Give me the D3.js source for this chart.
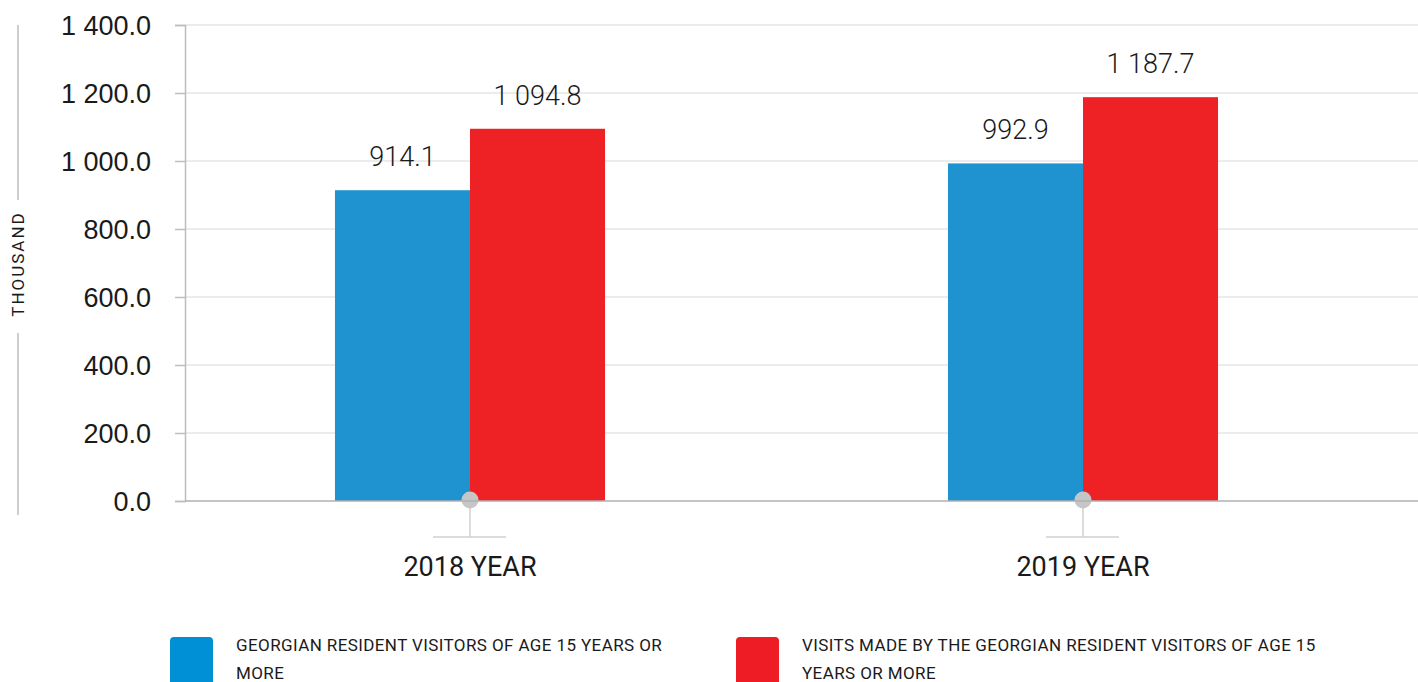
<!DOCTYPE html>
<html>
<head>
<meta charset="utf-8">
<script src="https://cdn.jsdelivr.net/npm/d3@7"></script>
<style>
  html, body { margin: 0; padding: 0; background: #fff; }
  svg { display: block; font-family: Roboto, "Noto Sans", sans-serif; }
</style>
</head>
<body>
<svg id="chart" width="1418" height="682"></svg>
<script>
// data
const years = ['2018 YEAR', '2019 YEAR']
const seriesNames = [
  'GEORGIAN RESIDENT VISITORS OF AGE 15 YEARS OR MORE',
  'VISITS MADE BY THE GEORGIAN RESIDENT VISITORS OF AGE 15 YEARS OR MORE'
]
const visitors = [914.1, 992.9]
const visits = [1094.8, 1187.7]
const yTicks = [0, 200, 400, 600, 800, 1000, 1200, 1400]

const colors = ['#1f93d0', '#ee2125']
const legendColors = ['#0090d6', '#ee1c25']
const legendLines = [
  ['GEORGIAN RESIDENT VISITORS OF AGE 15 YEARS OR', 'MORE'],
  ['VISITS MADE BY THE GEORGIAN RESIDENT VISITORS OF AGE 15', 'YEARS OR MORE']
]

const svg = d3.select('#chart')
const plot = { left: 185, right: 1418, top: 25, bottom: 501 }

const fmt = v => d3.format(',.1f')(v).replace(/,/g, ' ')

const y = d3.scaleLinear().domain([0, 1400]).range([plot.bottom, plot.top])
const x = d3.scaleBand().domain(years).range([163.5, 1389.5])
const xs = d3.scaleBand().domain([0, 1]).range([0, x.bandwidth()]).paddingOuter(1.27).paddingInner(0)

// gridlines
svg.append('g')
  .selectAll('line')
  .data(yTicks.filter(d => d > 0))
  .join('line')
  .attr('x1', plot.left).attr('x2', plot.right)
  .attr('y1', d => y(d)).attr('y2', d => y(d))
  .attr('stroke', '#e6e6e6').attr('stroke-width', 1.5)

// y axis
const yAxis = svg.append('g')
  .attr('transform', `translate(${plot.left},0)`)
  .call(d3.axisLeft(y).tickValues(yTicks).tickSize(10).tickPadding(24).tickFormat(fmt))
yAxis.select('.domain').attr('stroke', '#bdbdbd').attr('stroke-width', 1.5)
yAxis.selectAll('.tick line').attr('stroke', '#bdbdbd').attr('stroke-width', 1.5)
yAxis.selectAll('.tick text')
  .attr('fill', '#1a1a1a')
  .style('font-size', '27px')
  .style('font-weight', 300)
  .attr('dy', '0.35em')

// axis title
svg.append('line').attr('x1', 18).attr('x2', 18).attr('y1', 25).attr('y2', 200)
  .attr('stroke', '#bdbdbd').attr('stroke-width', 1.5)
svg.append('line').attr('x1', 18).attr('x2', 18).attr('y1', 333).attr('y2', 515)
  .attr('stroke', '#bdbdbd').attr('stroke-width', 1.5)
svg.append('text')
  .attr('transform', 'translate(24,264) rotate(-90)')
  .attr('text-anchor', 'middle')
  .style('font-size', '17px')
  .style('letter-spacing', '2px')
  .attr('fill', '#1a1a1a')
  .text('THOUSAND')

// bars
const series = [visitors, visits]
const groups = svg.append('g')
  .selectAll('g')
  .data(years)
  .join('g')
  .attr('transform', d => `translate(${x(d)},0)`)

groups.selectAll('rect')
  .data((d, i) => series.map((s, k) => ({ k, v: s[i] })))
  .join('rect')
  .attr('x', d => xs(d.k))
  .attr('width', xs.bandwidth())
  .attr('y', d => y(d.v))
  .attr('height', d => y(0) - y(d.v))
  .attr('fill', d => colors[d.k])

groups.selectAll('text.val')
  .data((d, i) => series.map((s, k) => ({ k, v: s[i] })))
  .join('text')
  .attr('class', 'val')
  .attr('x', d => xs(d.k) + xs.bandwidth() / 2)
  .attr('y', d => y(d.v) - 24)
  .attr('text-anchor', 'middle')
  .style('font-size', '27px')
  .style('font-weight', 300)
  .attr('fill', '#1a1a1a')
  .text(d => fmt(d.v))

// baseline
svg.append('line')
  .attr('x1', plot.left).attr('x2', plot.right)
  .attr('y1', y(0)).attr('y2', y(0))
  .attr('stroke', '#b0b0b0').attr('stroke-width', 1.5)

// category markers
const mid = x.bandwidth() / 2
groups.append('line')
  .attr('x1', mid).attr('x2', mid)
  .attr('y1', y(0)).attr('y2', 537)
  .attr('stroke', '#d0d0d0').attr('stroke-width', 1.5)
groups.append('line')
  .attr('x1', mid - 37).attr('x2', mid + 36)
  .attr('y1', 537).attr('y2', 537)
  .attr('stroke', '#d0d0d0').attr('stroke-width', 1.5)
groups.append('circle')
  .attr('cx', mid).attr('cy', y(0) - 1)
  .attr('r', 8.5)
  .attr('fill', '#c6c6c8')
groups.append('text')
  .attr('x', mid)
  .attr('y', 576)
  .attr('text-anchor', 'middle')
  .style('font-size', '27px')
  .attr('fill', '#1a1a1a')
  .text(d => d)

// legend
const legend = svg.append('g')
  .selectAll('g')
  .data(seriesNames)
  .join('g')
  .attr('transform', (d, i) => `translate(${170 + i * 566},637)`)
legend.append('rect')
  .attr('width', 43).attr('height', 60).attr('rx', 4)
  .attr('fill', (d, i) => legendColors[i])
legend.each(function (d, i) {
  const t = d3.select(this).append('text')
    .attr('x', 66).attr('y', 14)
    .style('font-size', '17px')
    .style('letter-spacing', '0.4px')
    .attr('fill', '#1a1a1a')
  legendLines[i].forEach((line, j) => {
    t.append('tspan').attr('x', 66).attr('dy', j ? 28 : 0).text(line)
  })
})
</script>
</body>
</html>
